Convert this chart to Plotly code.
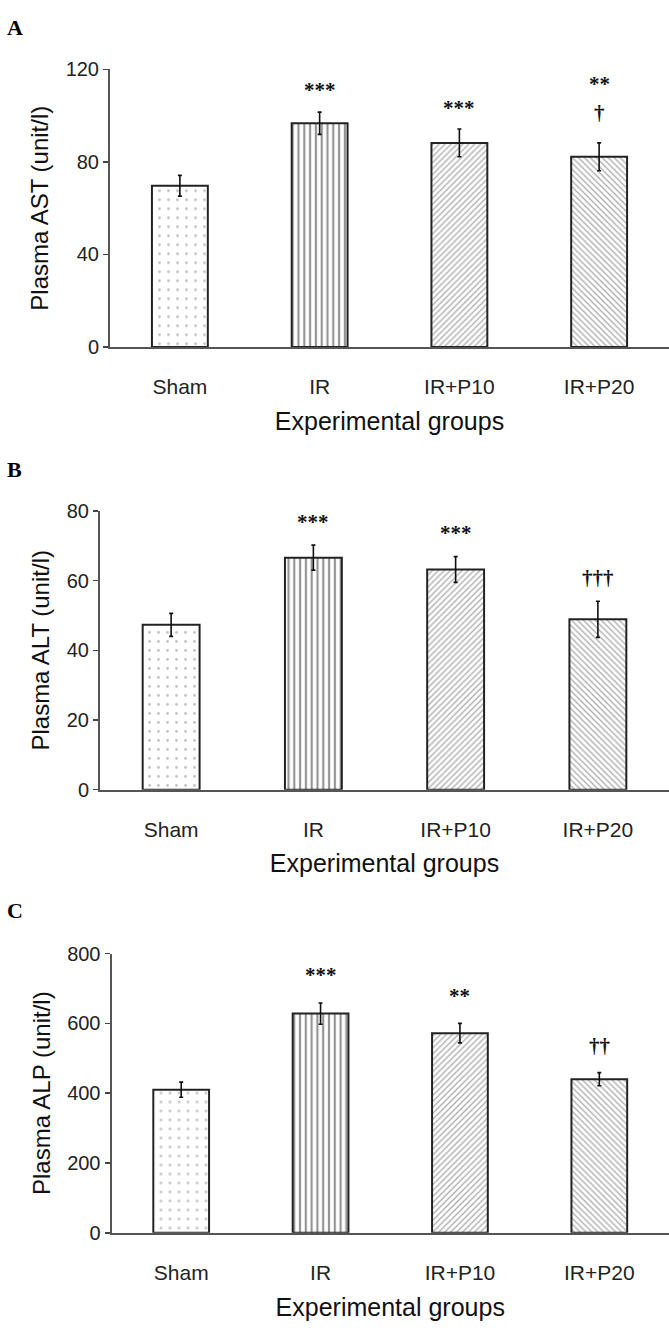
import plotly.graph_objects as go

W, H = 669, 1337

groups = ["Sham", "IR", "IR+P10", "IR+P20"]

ast_vals = [69.7, 96.7, 88.2, 82.2]
ast_err = [4.5, 4.8, 6.0, 6.0]
alt_vals = [47.3, 66.6, 63.2, 48.9]
alt_err = [3.3, 3.6, 3.7, 5.2]
alp_vals = [410, 628, 572, 440]
alp_err = [21.6, 30.5, 28.0, 18.8]

ast_ticks = [0, 40, 80, 120]
alt_ticks = [0, 20, 40, 60, 80]
alp_ticks = [0, 200, 400, 600, 800]

# significance marks: (group, text, y value)
ast_sig = [("IR", "***", 110.9), ("IR+P10", "***", 103.1), ("IR+P20", "**", 113.7), ("IR+P20", "†", 101.3)]
alt_sig = [("IR", "***", 76.9), ("IR+P10", "***", 73.8), ("IR+P20", "†††", 60.8)]
alp_sig = [("IR", "***", 739), ("IR+P10", "**", 678), ("IR+P20", "††", 534)]

panels = [
    dict(letter="A", vals=ast_vals, err=ast_err, ticks=ast_ticks, sig=ast_sig,
         ytitle="Plasma AST (unit/l)", top=59.3, bottom=341.7, left=110.0, letter_y=17),
    dict(letter="B", vals=alt_vals, err=alt_err, ticks=alt_ticks, sig=alt_sig,
         ytitle="Plasma ALT (unit/l)", top=508.3, bottom=791.7, left=100.0, letter_y=466),
    dict(letter="C", vals=alp_vals, err=alp_err, ticks=alp_ticks, sig=alp_sig,
         ytitle="Plasma ALP (unit/l)", top=958.3, bottom=1242.3, left=111.5, letter_y=915),
]

patterns = [
    dict(shape=".", size=9, solidity=0.08, fgcolor="#8a8a8a", bgcolor="white"),
    dict(shape="|", size=5.8, solidity=0.38, fgcolor="#2a2a2a", bgcolor="white"),
    dict(shape="/", size=4.2, solidity=0.3, fgcolor="#555555", bgcolor="white"),
    dict(shape="\\", size=4.2, solidity=0.3, fgcolor="#555555", bgcolor="white"),
]

FONT = "Liberation Sans, Arial, sans-serif"
SERIF = "Liberation Serif, Times New Roman, serif"

fig = go.Figure()
annotations = []
layout = {}

for i, p in enumerate(panels):
    n = "" if i == 0 else str(i + 1)
    xa, ya = "x" + n, "y" + n
    for g, v, e, pat in zip(groups, p["vals"], p["err"], patterns):
        fig.add_trace(go.Bar(
            x=[g], y=[v], xaxis=xa, yaxis=ya, width=0.4,
            marker=dict(color="white", line=dict(color="#222222", width=2), pattern=pat),
            error_y=dict(type="data", array=[e], visible=True, color="#111111", thickness=1.6, width=2),
            showlegend=False, hoverinfo="skip",
        ))
    ydom = [1 - p["bottom"] / H, 1 - p["top"] / H]
    layout["xaxis" + n] = dict(
        domain=[p["left"] / W, 1.0], anchor=ya, type="category", range=[-0.5, 3.5],
        showline=True, linecolor="#555555", linewidth=2, ticks="", showgrid=False, zeroline=False,
        tickfont=dict(family=FONT, size=21, color="#222222"), ticklabelstandoff=20,
        title=dict(text="Experimental groups", font=dict(family=FONT, size=25, color="#111111"), standoff=15),
    )
    layout["yaxis" + n] = dict(
        domain=ydom, anchor=xa, range=[0, p["ticks"][-1]], tickvals=p["ticks"],
        showline=True, linecolor="#555555", linewidth=2, ticks="outside", ticklen=5,
        tickcolor="#444444", tickwidth=1.5, showgrid=False, zeroline=False,
        tickfont=dict(family=FONT, size=20, color="#222222"),
        title=dict(text=p["ytitle"], font=dict(family=FONT, size=24, color="#111111"), standoff=10),
    )
    for g, txt, yv in p["sig"]:
        annotations.append(dict(
            x=g, y=yv, xref=xa, yref=ya, text="<b>%s</b>" % txt, showarrow=False,
            font=dict(family=SERIF, size=21, color="#111111"), xanchor="center", yanchor="middle",
        ))
    annotations.append(dict(
        x=5 / W, y=1 - p["letter_y"] / H, xref="paper", yref="paper", text="<b>%s</b>" % p["letter"],
        showarrow=False, xanchor="left", yanchor="middle",
        font=dict(family=SERIF, size=22, color="#000000"),
    ))

fig.update_layout(
    width=W, height=H, margin=dict(l=0, r=0, t=0, b=0),
    paper_bgcolor="white", plot_bgcolor="white", barmode="overlay",
    annotations=annotations, **layout,
)

fig.write_html(
    "out.html",
    config={"displayModeBar": False, "staticPlot": True},
    post_script="document.body.style.margin='0';document.body.style.overflow='hidden';",
)
